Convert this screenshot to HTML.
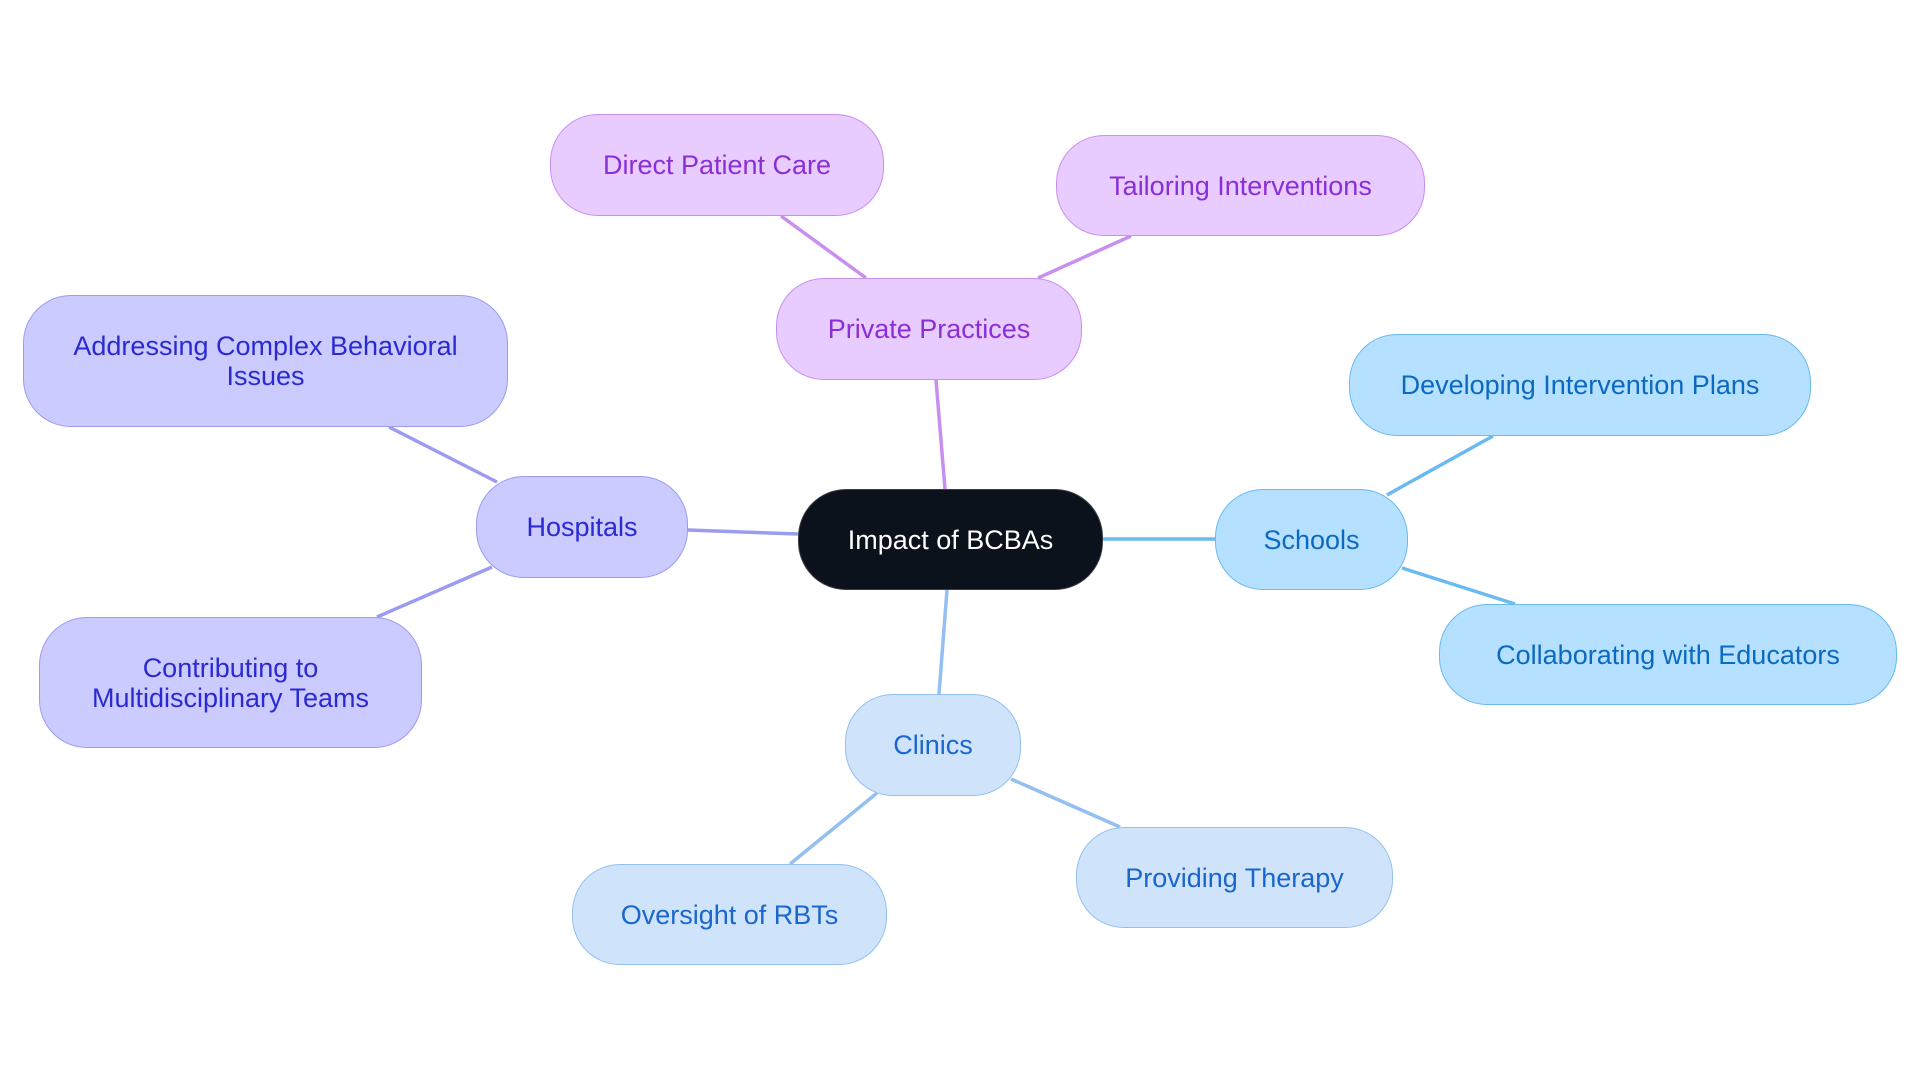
<!DOCTYPE html>
<html><head><style>
body{margin:0;width:1920px;height:1083px;background:#fff;position:relative;overflow:hidden;font-family:"Liberation Sans",sans-serif}
.n{position:absolute;box-sizing:border-box;border:1.5px solid;border-radius:48px;display:flex;align-items:center;justify-content:center;text-align:center;font-size:27px;line-height:30px}
.p{background:#e8cbff;border-color:#c98ff0;color:#8a2fd6}
.h{background:#cbcbff;border-color:#9b9bf0;color:#2a2ad0}
.s{background:#b5e0ff;border-color:#6ab9f0;color:#0b6ac0}
.c{background:#cfe4fb;border-color:#93c0f0;color:#1a66cc}
</style></head><body>
<svg width="1920" height="1083" style="position:absolute;left:0;top:0" fill="none" stroke-width="3.5">
<g stroke="#c98ff0"><line x1="945" y1="489" x2="936" y2="380"/><line x1="866" y1="278" x2="781" y2="216"/><line x1="1038" y1="278" x2="1131" y2="236"/></g>
<g stroke="#9b9bf0"><line x1="798" y1="534" x2="688" y2="530"/><line x1="497" y1="482" x2="389" y2="427"/><line x1="492" y1="567" x2="377" y2="617"/></g>
<g stroke="#6ab9f0"><line x1="1103" y1="539" x2="1215" y2="539"/><line x1="1387" y1="495" x2="1493" y2="436"/><line x1="1402" y1="568" x2="1515" y2="604"/></g>
<g stroke="#93c0f0"><line x1="947" y1="590" x2="939" y2="694"/><line x1="877" y1="793" x2="790" y2="864"/><line x1="1011" y1="779" x2="1120" y2="827"/></g>
</svg>
<div class="n" style="left:798px;top:489px;width:305px;height:101px;background:#0c121b;border-color:#3a3f46;color:#fff">Impact of BCBAs</div>
<div class="n p" style="left:776px;top:278px;width:306px;height:102px">Private Practices</div>
<div class="n p" style="left:550px;top:114px;width:334px;height:102px">Direct Patient Care</div>
<div class="n p" style="left:1056px;top:135px;width:369px;height:101px">Tailoring Interventions</div>
<div class="n h" style="left:476px;top:476px;width:212px;height:102px">Hospitals</div>
<div class="n h" style="left:23px;top:295px;width:485px;height:132px">Addressing Complex Behavioral<br>Issues</div>
<div class="n h" style="left:39px;top:617px;width:383px;height:131px">Contributing to<br>Multidisciplinary Teams</div>
<div class="n s" style="left:1215px;top:489px;width:193px;height:101px">Schools</div>
<div class="n s" style="left:1349px;top:334px;width:462px;height:102px">Developing Intervention Plans</div>
<div class="n s" style="left:1439px;top:604px;width:458px;height:101px">Collaborating with Educators</div>
<div class="n c" style="left:845px;top:694px;width:176px;height:102px">Clinics</div>
<div class="n c" style="left:572px;top:864px;width:315px;height:101px">Oversight of RBTs</div>
<div class="n c" style="left:1076px;top:827px;width:317px;height:101px">Providing Therapy</div>
</body></html>
